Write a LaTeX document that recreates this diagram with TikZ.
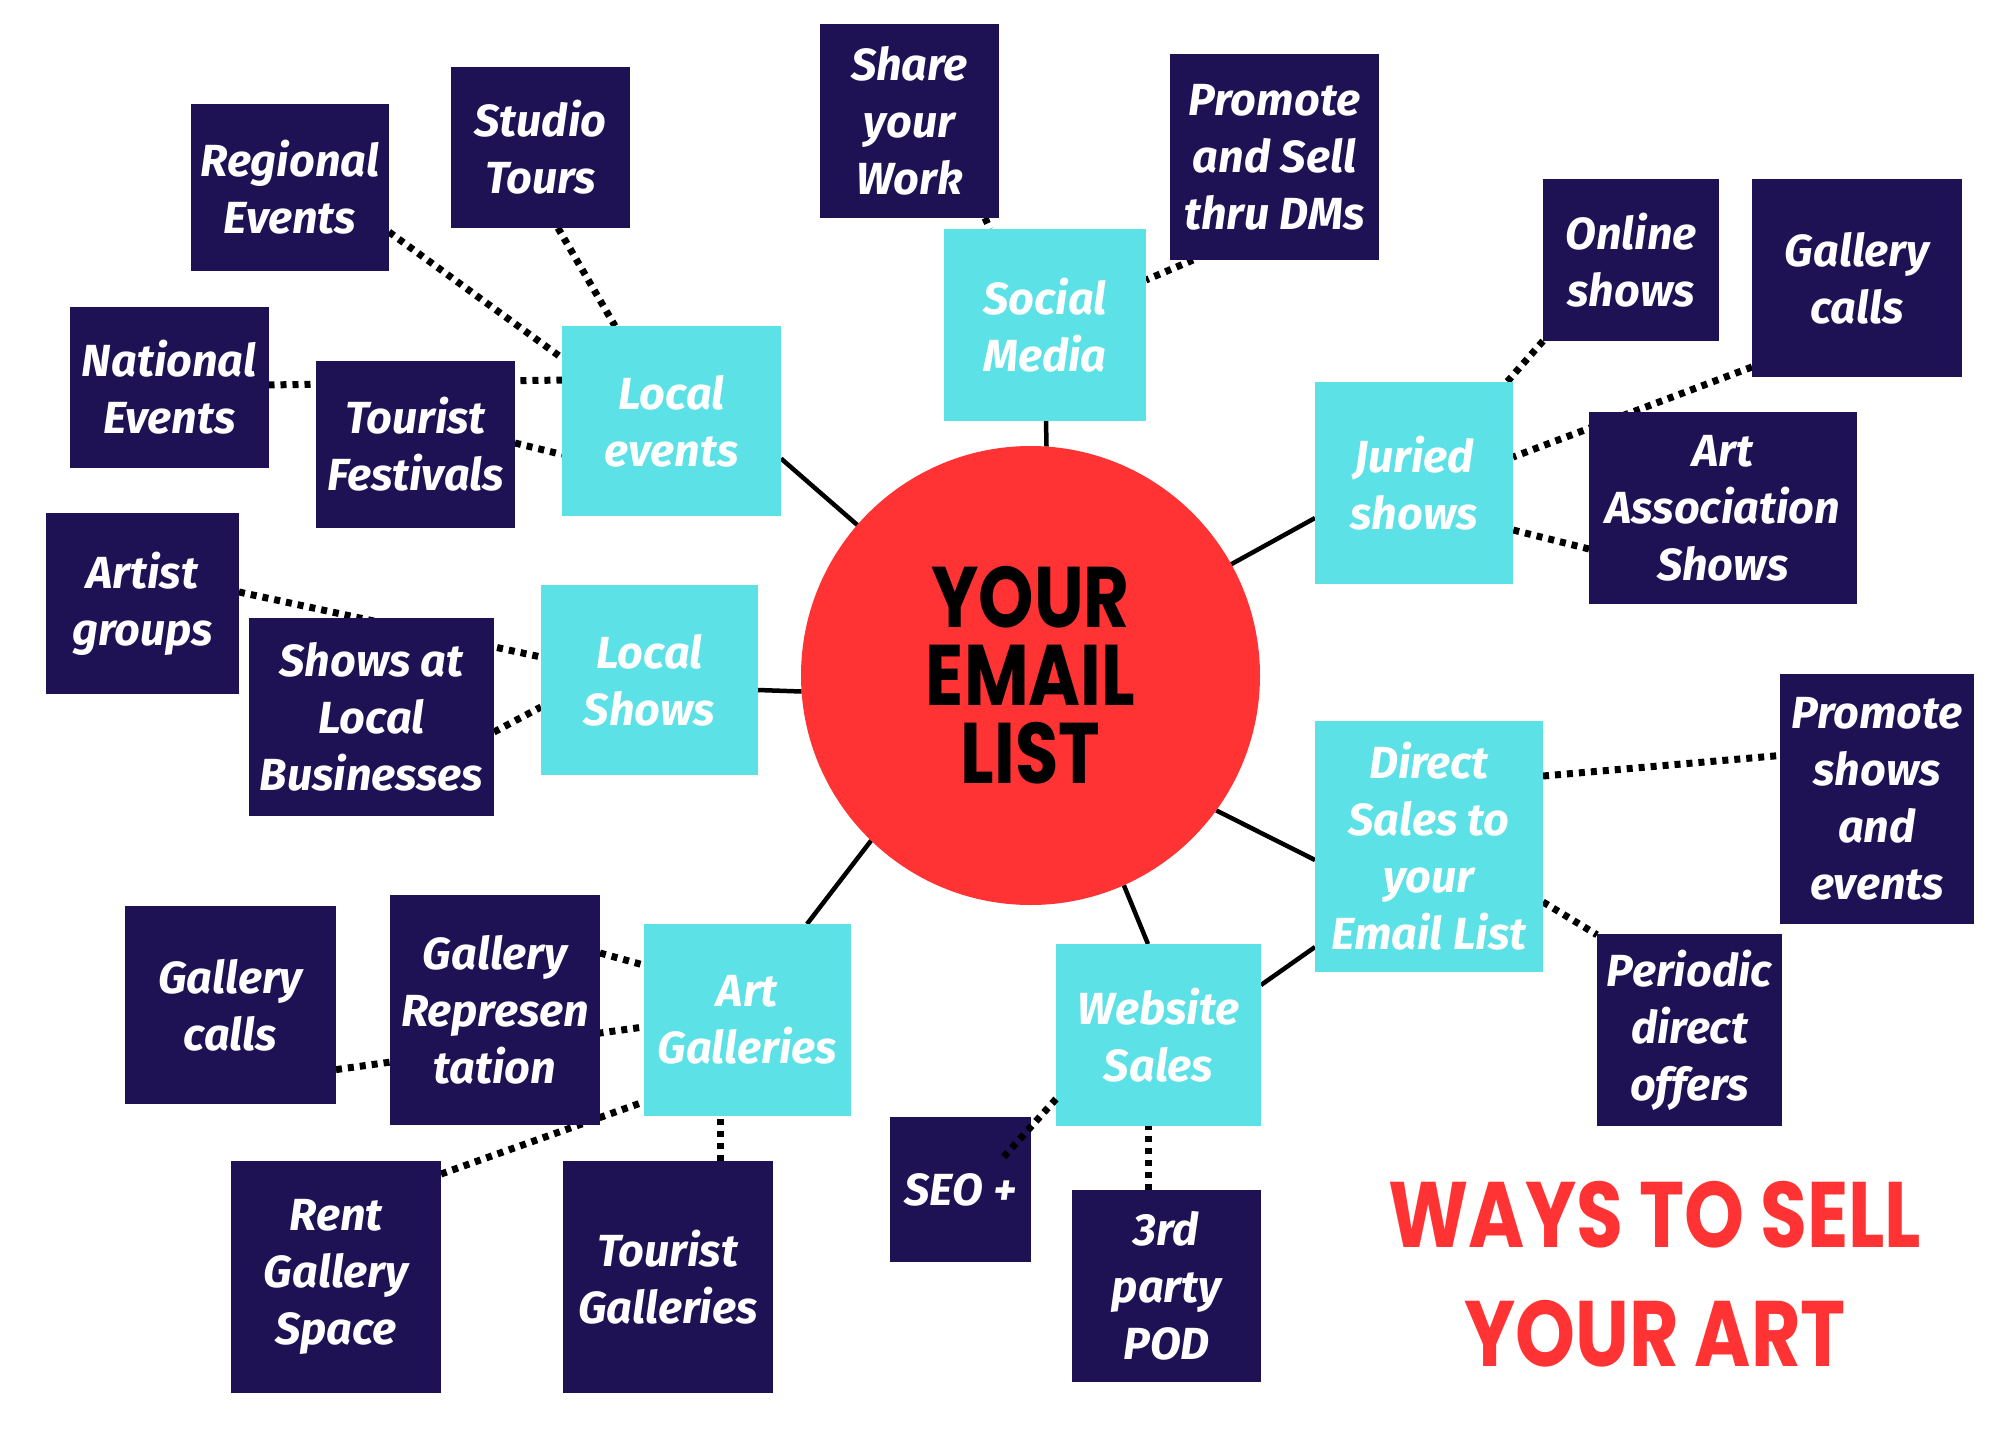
\documentclass[tikz,border=0pt]{standalone}
\usepackage{fontspec}
\usetikzlibrary{backgrounds}
\newfontfamily\boxfont{Fira Sans}
\newfontfamily\markfont{Poppins}[FakeStretch=0.82]
\definecolor{navy}{HTML}{1E1255}
\definecolor{cyanbox}{HTML}{5CE1E6}
\definecolor{redc}{HTML}{FF3333}
\tikzset{
  basebox/.style={rectangle, inner sep=0pt, outer sep=0pt, align=center, text=white,
    font=\boxfont\bfseries\itshape\fontsize{45}{57}\selectfont},
  dkbox/.style={basebox, fill=navy},
  cybox/.style={basebox, fill=cyanbox},
  sz/.style 2 args={minimum width=#1pt, minimum height=#2pt},
  solidline/.style={line width=4.5pt, black},
  dotline/.style={line width=7pt, black, dash pattern=on 6pt off 6pt},
}
\begin{document}
\begin{tikzpicture}[x=1pt,y=-1pt]
\begin{pgfonlayer}{background}
\fill[white] (0,0) rectangle (2000,1429);
\end{pgfonlayer}
\useasboundingbox (0,0) rectangle (2000,1429);

% centre
\node[circle, fill=redc, minimum size=459pt, inner sep=0pt, outer sep=0pt, align=center,
  font=\markfont\bfseries\fontsize{86}{78}\selectfont] (circ) at (1030.5,675.5) {YOUR\\EMAIL\\LIST};

% cyan boxes
\node[cybox, sz={219}{190}] (locev) at (671.5,421) {Local\\events};
\node[cybox, sz={202}{192}] (social) at (1045,325) {Social\\Media};
\node[cybox, sz={198}{202}] (juried) at (1414,483) {Juried\\shows};
\node[cybox, sz={217}{190}] (locsh) at (649.5,680) {Local\\Shows};
\node[cybox, sz={207.5}{192}] (artgal) at (747.25,1020) {Art\\Galleries};
\node[cybox, sz={228}{250.5}] (direct) at (1429,846.25) {Direct\\Sales to\\your\\Email List};
\node[cybox, sz={205}{182}] (website) at (1158.5,1035) {Website\\Sales};

% dark boxes
\node[dkbox, sz={198}{167}] (regional) at (290,187.5) {Regional\\Events};
\node[dkbox, sz={179}{161}] (studio) at (540.5,147.5) {Studio\\Tours};
\node[dkbox, sz={179}{194}] (share) at (909.5,121) {Share\\your\\Work};
\node[dkbox, sz={209}{206}] (promsell) at (1274.5,157) {Promote\\and Sell\\thru DMs};
\node[dkbox, sz={198.5}{161}] (national) at (169.25,387.5) {National\\Events};
\node[dkbox, sz={199}{167}] (tourfest) at (415.5,444.5) {Tourist\\Festivals};
\node[dkbox, sz={193}{181}] (artist) at (142.5,603.5) {Artist\\groups};
\node[dkbox, sz={245}{198}] (showsloc) at (371.5,717) {Shows at\\Local\\Businesses};
\node[dkbox, sz={176}{162}] (online) at (1631,260) {Online\\shows};
\node[dkbox, sz={210}{198}] (galcallsR) at (1857,278) {Gallery\\calls};
\node[dkbox, sz={267.5}{192}] (artassoc) at (1722.75,508) {Art\\Association\\Shows};
\node[dkbox, sz={194}{250}] (promshows) at (1877,799) {Promote\\shows\\and\\events};
\node[dkbox, sz={185}{192}] (periodic) at (1689.5,1030) {Periodic\\direct\\offers};
\node[dkbox, sz={211}{198}] (galcallsL) at (230.5,1005) {Gallery\\calls};
\node[dkbox, sz={210}{230}] (galrep) at (495,1010) {Gallery\\Represen\\tation};
\node[dkbox, sz={210}{232}] (rent) at (336,1277) {Rent\\Gallery\\Space};
\node[dkbox, sz={210.5}{232}] (tourgal) at (667.75,1277) {Tourist\\Galleries};
\node[dkbox, sz={141}{145}] (seo) at (960.5,1189.5) {SEO +};
\node[dkbox, sz={189}{192}] (pod) at (1166.5,1285.5) {3rd\\party\\POD};

% title
\node[align=center, text=redc, inner sep=0pt, font=\markfont\bfseries\fontsize{93}{119}\selectfont]
  (title) at (1655,1274.5) {WAYS TO SELL\\YOUR ART};

\begin{pgfonlayer}{background}
% solid connectors
\draw[solidline] (locev.east |- 0,458.5) -- (circ.139.4);
\draw[solidline] (social.south -| 1046,0) -- (circ.86.1);
\draw[solidline] (juried.west |- 0,518) -- (circ.29);
\draw[solidline] (locsh.east |- 0,690) -- (circ.184.4);
\draw[solidline] (artgal.north -| 807,0) -- (circ.226.9);
\draw[solidline] (direct.west |- 0,860) -- (circ.324.6);
\draw[solidline] (website.north -| 1148,0) -- (circ.294.8);
\draw[solidline] (website.east |- 0,985) -- (direct.west |- 0,947);
% dotted connectors
\draw[dotline] (regional.east |- 0,232) -- (locev.west |- 0,358);
\draw[dotline] (studio.south -| 558,0) -- (locev.north -| 615,0);
\draw[dotline] (national.east |- 0,385) -- (locev.west |- 0,380);
\draw[dotline] (tourfest.east |- 0,443) -- (locev.west |- 0,454.5);
\draw[dotline] (artist.east |- 0,592) -- (locsh.west |- 0,657);
\draw[dotline] (showsloc.east |- 0,732) -- (locsh.west |- 0,707);
\draw[dotline] (share.south -| 985,0) -- (social.north -| 990,0);
\draw[dotline] (promsell.south -| 1193,0) -- (social.east |- 0,280);
\draw[dotline] (online.south west) -- (juried.north -| 1507,0);
\draw[dotline] (galcallsR.west |- 0,367) -- (juried.east |- 0,457);
\draw[dotline] (artassoc.west |- 0,549) -- (juried.east |- 0,530);
\draw[dotline] (galrep.east |- 0,953) -- (artgal.west |- 0,965);
\draw[dotline] (galcallsL.east |- 0,1069.6) -- (artgal.west |- 0,1027);
\draw[dotline] (rent.east |- 0,1174) -- (artgal.west |- 0,1102);
\draw[dotline] (tourgal.north -| 720.7,0) -- (artgal.south -| 720.7,0);
\draw[dotline] (pod.north -| 1148,0) -- (website.south -| 1148,0);
\draw[dotline] (direct.east |- 0,776) -- (promshows.west |- 0,755.5);
\draw[dotline] (direct.east |- 0,902) -- (periodic.west |- 0,934.8);
\end{pgfonlayer}
% dotted line drawn over the SEO box
\coordinate (seoend) at (1000,1161);
\draw[dotline] (website.west |- 0,1099) -- (seoend);
\end{tikzpicture}
\end{document}
